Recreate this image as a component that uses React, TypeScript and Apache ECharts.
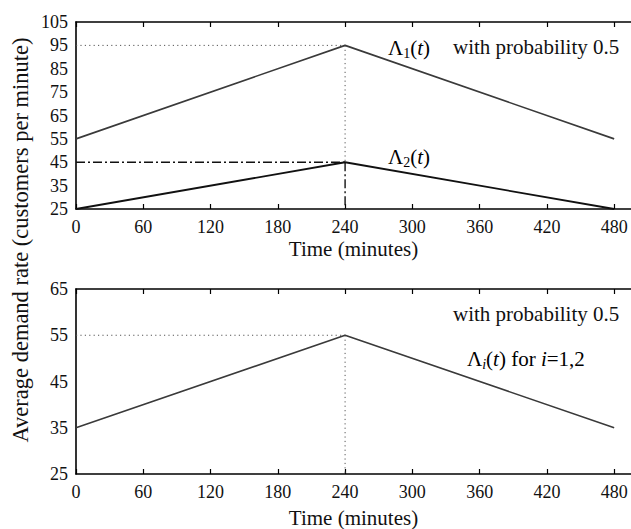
import React, { useEffect, useRef } from "react";
import * as echarts from "echarts";

const timeTicks = [0, 60, 120, 180, 240, 300, 360, 420, 480];
const topYTicks = [25, 35, 45, 55, 65, 75, 85, 95, 105];
const bottomYTicks = [25, 35, 45, 55, 65];

const times = [0, 240, 480];
const lambda1 = [55, 95, 55];
const lambda2 = [25, 45, 25];
const lambdaAvg = [35, 55, 35];

const peakTime = 240;
const FONT = "Liberation Serif, Times New Roman, serif";

const richStyles = {
  L: { fontSize: 21, fontFamily: FONT, color: "#111" },
  s: { fontSize: 14, fontFamily: FONT, color: "#111", padding: [10, 0, 0, 0] },
  p: { fontSize: 21, fontFamily: FONT, color: "#111" },
  i: { fontSize: 21, fontFamily: FONT, color: "#111", fontStyle: "italic" },
  si: { fontSize: 14, fontFamily: FONT, color: "#111", fontStyle: "italic", padding: [10, 0, 0, 0] },
};

export default function App() {
  const ref = useRef<HTMLDivElement>(null);
  useEffect(() => {
    if (!ref.current) return;
    const chart = echarts.init(ref.current, undefined, { renderer: "svg" });
    const pts = (ys: number[]) => times.map((t, k) => [t, ys[k]]);
    const xBase = (gridIndex: number, nameGap: number) => ({
      type: "value",
      gridIndex,
      min: 0,
      max: 495,
      position: "bottom",
      name: "Time (minutes)",
      nameLocation: "middle",
      nameGap,
      nameTextStyle: { fontFamily: FONT, fontSize: 21, color: "#111" },
      axisLine: { lineStyle: { color: "#000", width: 1.6 } },
      axisTick: { inside: true, length: 5, customValues: timeTicks, lineStyle: { color: "#000", width: 1.2 } },
      axisLabel: { customValues: timeTicks, margin: 9, fontFamily: FONT, fontSize: 18, color: "#111" },
      splitLine: { show: false },
    });
    const xTop = (gridIndex: number) => ({
      type: "value",
      gridIndex,
      min: 0,
      max: 495,
      position: "top",
      axisLine: { lineStyle: { color: "#000", width: 1.6 } },
      axisTick: { inside: true, length: 5, customValues: timeTicks, lineStyle: { color: "#000", width: 1.2 } },
      axisLabel: { show: false },
      splitLine: { show: false },
    });
    const yAxis = (gridIndex: number, ticks: number[]) => ({
      type: "value",
      gridIndex,
      min: ticks[0],
      max: ticks[ticks.length - 1],
      interval: 10,
      axisLine: { show: true, lineStyle: { color: "#000", width: 1.6 } },
      axisTick: { show: false },
      axisLabel: { margin: 8, fontFamily: FONT, fontSize: 18, color: "#111" },
      splitLine: { show: false },
    });
    const line = (x: number, y: number, data: number[][], color: string, width: number, type: any) => ({
      type: "line",
      xAxisIndex: x,
      yAxisIndex: y,
      data,
      symbol: "none",
      silent: true,
      lineStyle: { color, width, type },
      z: 3,
    });
    const dotted = [1.2, 3.2];
    const dashDot = [9, 3, 2, 3];
    chart.setOption({
      animation: false,
      backgroundColor: "#fff",
      grid: [
        { left: 76, top: 22, width: 557, height: 187 },
        { left: 76, top: 289, width: 557, height: 187 },
      ],
      xAxis: [xBase(0, 29), xBase(1, 33), xTop(0), xTop(1)],
      yAxis: [yAxis(0, topYTicks), yAxis(1, bottomYTicks)],
      series: [
        line(2, 0, [[0, lambda1[1]], [peakTime, lambda1[1]]], "#555", 1, dotted),
        line(2, 0, [[peakTime, lambda1[1]], [peakTime, lambda2[1]]], "#555", 1, dotted),
        line(2, 0, [[0, lambda2[1]], [peakTime, lambda2[1]]], "#111", 1.4, dashDot),
        line(2, 0, [[peakTime, lambda2[1]], [peakTime, topYTicks[0]]], "#111", 1.4, dashDot),
        line(2, 0, pts(lambda1), "#3a3a3a", 1.6, "solid"),
        line(2, 0, pts(lambda2), "#111", 1.8, "solid"),
        line(3, 1, [[0, lambdaAvg[1]], [peakTime, lambdaAvg[1]]], "#555", 1, dotted),
        line(3, 1, [[peakTime, lambdaAvg[1]], [peakTime, bottomYTicks[0]]], "#555", 1, dotted),
        line(3, 1, pts(lambdaAvg), "#3a3a3a", 1.6, "solid"),
      ],
      graphic: [
        {
          type: "text",
          x: 20,
          y: 240,
          rotation: Math.PI / 2,
          style: {
            text: "Average demand rate (customers per minute)",
            fontFamily: FONT,
            fontSize: 22.5,
            fill: "#111",
            align: "center",
            verticalAlign: "middle",
          },
        },
        {
          type: "text",
          x: 388,
          y: 48,
          style: { text: "{L|Λ}{s|1}{p|(}{i|t}{p|)}", rich: richStyles, verticalAlign: "middle" },
        },
        {
          type: "text",
          x: 388,
          y: 157,
          style: { text: "{L|Λ}{s|2}{p|(}{i|t}{p|)}", rich: richStyles, verticalAlign: "middle" },
        },
        {
          type: "text",
          x: 453,
          y: 47,
          style: { text: "with probability 0.5", fontFamily: FONT, fontSize: 21, fill: "#111", verticalAlign: "middle" },
        },
        {
          type: "text",
          x: 453,
          y: 314,
          style: { text: "with probability 0.5", fontFamily: FONT, fontSize: 21, fill: "#111", verticalAlign: "middle" },
        },
        {
          type: "text",
          x: 467,
          y: 359,
          style: { text: "{L|Λ}{si|i}{p|(}{i|t}{p|) for }{i|i}{p|=1,2}", rich: richStyles, verticalAlign: "middle" },
        },
      ],
    });
    return () => chart.dispose();
  }, []);
  return (
    <div
      ref={ref}
      style={{ position: "fixed", left: 0, top: 0, width: 631, height: 529, background: "#fff" }}
    />
  );
}
